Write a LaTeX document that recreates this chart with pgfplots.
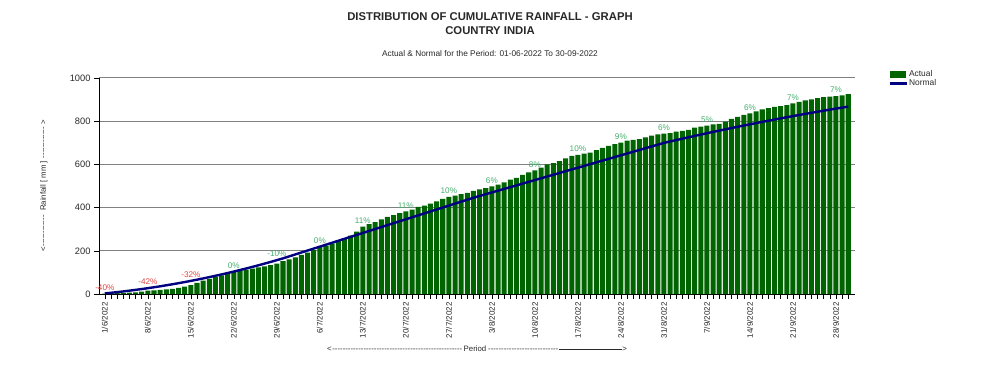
\documentclass[border=0pt]{standalone}
\usepackage{fontspec}
\setmainfont{Liberation Sans}
\usepackage{pgfplots}
\pgfplotsset{compat=1.18}
\definecolor{bargreen}{RGB}{0,100,0}
\definecolor{normalblue}{RGB}{0,0,128}
\definecolor{pctred}{RGB}{225,70,70}
\definecolor{pctgreen}{RGB}{70,175,110}
\definecolor{gridgray}{RGB}{128,128,128}
\definecolor{txt}{RGB}{40,40,40}
\begin{document}
\begin{tikzpicture}
\path[use as bounding box] (-99bp,-75bp) rectangle (883bp,294bp);
\begin{axis}[
  scale only axis, width=756bp, height=216bp,
  xmin=-0.95, xmax=122.1, ymin=0, ymax=1000,
  clip=false,
  axis lines=left, axis line style={-, black, line width=0.8bp},
  ytick={0,200,400,600,800,1000},
  yticklabels={0,200,400,600,800,1000},
  ymajorgrids, major grid style={gridgray, line width=1bp},
  xtick={0,7,...,119},
  xticklabels={1/6/2022,8/6/2022,15/6/2022,22/6/2022,29/6/2022,6/7/2022,13/7/2022,20/7/2022,27/7/2022,3/8/2022,10/8/2022,17/8/2022,24/8/2022,31/8/2022,7/9/2022,14/9/2022,21/9/2022,28/9/2022},
  minor xtick={0,...,121},
  x tick label style={rotate=90, anchor=east, font=\fontsize{8bp}{9bp}\selectfont, text=txt},
  y tick label style={font=\fontsize{9.3bp}{10bp}\selectfont, text=txt},
  tick align=outside, major tick length=5bp, minor tick length=5bp,
  tick style={black, line width=0.6bp},
  every axis y label/.style={at={(axis description cs:-0.0728,0.5)}, anchor=center, rotate=90, font=\fontsize{7.8bp}{9bp}\selectfont, text=txt},
  every axis x label/.style={at={(axis description cs:0.5,-0.2546)}, anchor=center, font=\fontsize{7.8bp}{9bp}\selectfont, text=txt},
  ylabel={<\leaders\hbox{-}\hskip 34bp\ Rainfall [ mm ]\ \leaders\hbox{-}\hskip 34bp>},
  xlabel={<\leaders\hbox{-}\hskip 132bp Period\leaders\hbox{-}\hskip 73bp\rule[2.3bp]{63bp}{0.6bp}>},
  legend style={at={(rel axis cs:1.044,1.04)}, anchor=north west, draw=none, fill=none,
    font=\fontsize{8.4bp}{10bp}\selectfont, row sep=-1bp, inner sep=0bp, nodes={inner sep=1.2bp, text=txt}},
  legend cell align=left,
]
\addplot[ybar, bar width=0.82, fill=bargreen, draw=none,
  legend image code/.code={\fill[bargreen] (0bp,-3.2bp) rectangle (16.5bp,3.2bp);}]
coordinates {
(0,1.6)(1,3)(2,4)(3,5)(4,6)(5,8)(6,11)(7,15.7)(8,17)(9,19)
(10,21)(11,24)(12,28)(13,34)(14,41)(15,52)(16,62)(17,70)(18,78)(19,86)
(20,95)(21,104)(22,108)(23,113)(24,118)(25,123)(26,128)(27,134)(28,141)(29,152)
(30,160)(31,170)(32,181)(33,192)(34,203)(35,217)(36,224)(37,234)(38,246)(39,258)
(40,270)(41,289)(42,312)(43,324)(44,333)(45,346)(46,357)(47,365)(48,375)(49,383)
(50,391)(51,403)(52,409)(53,418)(54,429)(55,440)(56,450)(57,456)(58,462)(59,468)
(60,477)(61,484)(62,490)(63,498)(64,506)(65,517)(66,529)(67,538)(68,552)(69,563)
(70,572)(71,585)(72,600)(73,606)(74,615)(75,628)(76,640)(77,644)(78,650)(79,655)
(80,666)(81,676)(82,686)(83,694)(84,701)(85,710)(86,714)(87,717)(88,725)(89,733)
(90,739)(91,742)(92,745)(93,752)(94,755)(95,760)(96,770)(97,775)(98,780)(99,785)
(100,788)(101,798)(102,811)(103,820)(104,829)(105,836)(106,846)(107,855)(108,861)(109,866)
(110,870)(111,874)(112,882)(113,890)(114,896)(115,901)(116,907)(117,912)(118,914)(119,916)
(120,919)(121,925)
};
\addlegendentry{Actual}
\addplot[color=normalblue, line width=2.4bp, mark=none]
coordinates {
(0,2.7)(1,5.6)(2,8.7)(3,11.9)(4,15.4)(5,19.1)(6,22.9)(7,27.0)(8,31.2)(9,35.6)
(10,40.3)(11,45.1)(12,50.1)(13,55.3)(14,60.7)(15,66.3)(16,72.1)(17,78.1)(18,84.3)(19,90.6)
(20,97.2)(21,104.0)(22,110.9)(23,118.1)(24,125.4)(25,132.9)(26,140.7)(27,148.6)(28,156.7)(29,165.0)
(30,174.1)(31,183.1)(32,192.2)(33,201.2)(34,210.3)(35,219.3)(36,228.4)(37,237.4)(38,246.5)(39,255.5)
(40,264.6)(41,273.6)(42,282.7)(43,291.7)(44,300.8)(45,309.8)(46,318.9)(47,327.9)(48,337.0)(49,346.0)
(50,355.1)(51,364.1)(52,373.2)(53,382.2)(54,391.3)(55,400.3)(56,409.4)(57,418.4)(58,427.5)(59,436.5)
(60,445.6)(61,453.8)(62,462.0)(63,470.2)(64,478.4)(65,486.6)(66,494.7)(67,502.9)(68,511.1)(69,519.3)
(70,527.5)(71,535.7)(72,543.9)(73,552.1)(74,560.3)(75,568.5)(76,576.6)(77,584.8)(78,593.0)(79,601.2)
(80,609.4)(81,617.6)(82,625.8)(83,634.0)(84,642.2)(85,650.4)(86,658.5)(87,666.7)(88,674.9)(89,683.1)
(90,691.3)(91,699.5)(92,706.1)(93,712.6)(94,719.1)(95,725.5)(96,731.8)(97,738.1)(98,744.3)(99,750.4)
(100,756.4)(101,762.4)(102,768.3)(103,774.1)(104,779.9)(105,785.6)(106,791.3)(107,796.8)(108,802.3)(109,807.7)
(110,813.1)(111,818.4)(112,823.6)(113,828.8)(114,833.8)(115,838.9)(116,843.8)(117,848.7)(118,853.5)(119,858.2)
(120,862.9)(121,867.5)
};
\addlegendentry{Normal}
\addplot[draw=none, mark=none, forget plot, nodes near coords, point meta=explicit symbolic,
  every node near coord/.append style={text=pctred, font=\fontsize{8.2bp}{9bp}\selectfont, yshift=2bp, inner sep=1bp}]
coordinates {(0,2.7)[-40\%] (7,27.0)[-42\%] (14,60.7)[-32\%]};
\addplot[draw=none, mark=none, forget plot, nodes near coords, point meta=explicit symbolic,
  every node near coord/.append style={text=pctgreen, font=\fontsize{8.2bp}{9bp}\selectfont, yshift=2bp, inner sep=1bp}]
coordinates {(21,104)[0\%] (28,156.7)[-10\%] (35,219.3)[0\%] (42,312)[11\%] (49,383)[11\%]
 (56,450)[10\%] (63,498)[6\%] (70,572)[8\%] (77,644)[10\%] (84,701)[9\%] (91,742)[6\%]
 (98,780)[5\%] (105,836)[6\%] (112,882)[7\%] (119,916)[7\%]};
\end{axis}
\node[font=\fontsize{11.3bp}{13bp}\selectfont\bfseries, text=txt] at (391bp,277.3bp) {DISTRIBUTION OF CUMULATIVE RAINFALL - GRAPH};
\node[font=\fontsize{11.3bp}{13bp}\selectfont\bfseries, text=txt] at (391bp,263.5bp) {COUNTRY INDIA};
\node[font=\fontsize{8.3bp}{10bp}\selectfont, text=txt] at (391bp,240.5bp) {Actual \& Normal for the Period: 01-06-2022 To 30-09-2022};
\end{tikzpicture}
\end{document}
